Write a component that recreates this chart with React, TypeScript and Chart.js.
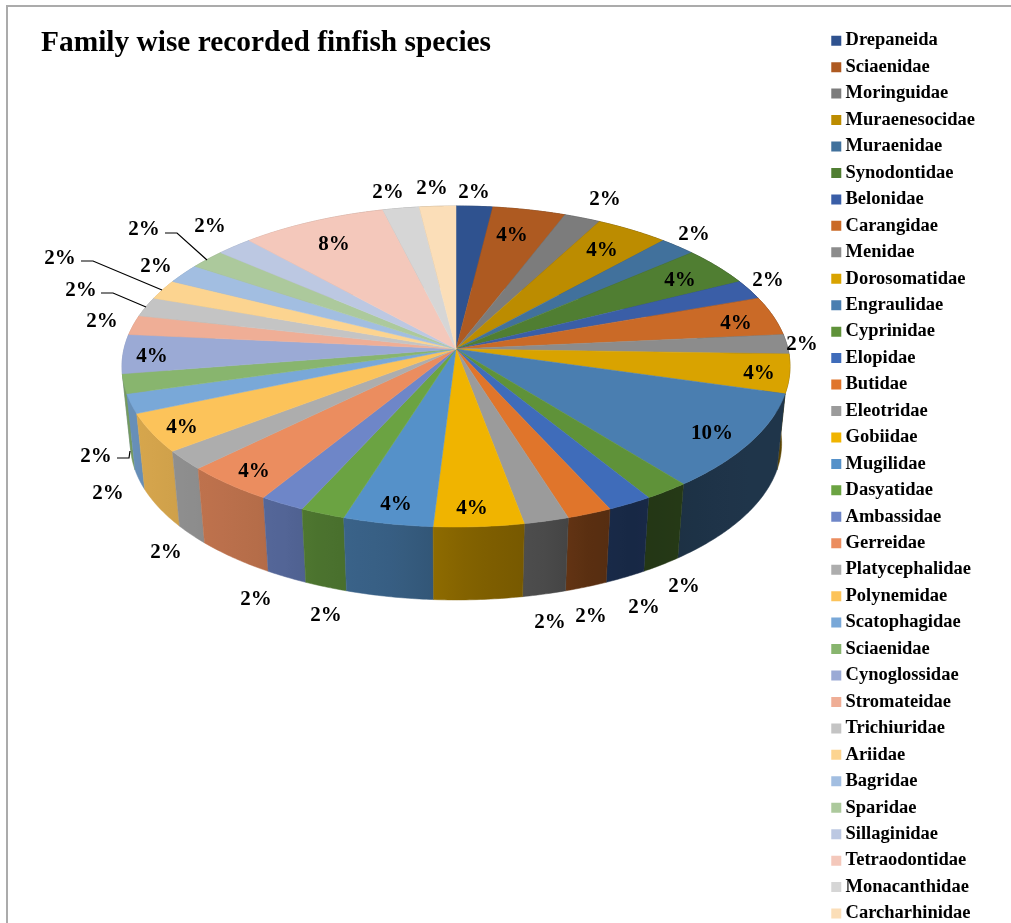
import React, { useEffect, useRef } from "react";
import { Chart, registerables } from "chart.js";

Chart.register(...registerables);

const families = [
  "Drepaneida", "Sciaenidae", "Moringuidae", "Muraenesocidae", "Muraenidae", "Synodontidae",
  "Belonidae", "Carangidae", "Menidae", "Dorosomatidae", "Engraulidae", "Cyprinidae",
  "Elopidae", "Butidae", "Eleotridae", "Gobiidae", "Mugilidae", "Dasyatidae", "Ambassidae",
  "Gerreidae", "Platycephalidae", "Polynemidae", "Scatophagidae", "Sciaenidae", "Cynoglossidae",
  "Stromateidae", "Trichiuridae", "Ariidae", "Bagridae", "Sparidae", "Sillaginidae",
  "Tetraodontidae", "Monacanthidae", "Carcharhinidae",
];

// Recorded species per family.
const speciesCounts = [
  1, 2, 1, 2, 1, 2, 1, 2, 1, 2, 5, 1, 1, 1, 1, 2, 2, 1, 1, 2, 1, 2, 1, 1, 2, 1, 1, 1, 1, 1, 1, 4, 1, 1,
];

const sliceColors = [
  "#2F528F", "#AE5A21", "#7C7C7C", "#BC8C00", "#41719C", "#507E32", "#3A5EA7", "#CA6A27",
  "#8C8C8C", "#D9A300", "#4A7EB0", "#5F9239", "#3F6CBA", "#E0752B", "#9B9B9B", "#F0B400",
  "#5591C9", "#6BA342", "#6E86C8", "#EB8D5F", "#ADADAD", "#FCC35A", "#79A8D8", "#88B56E",
  "#9BAAD5", "#EFAE96", "#C4C4C4", "#FCD490", "#A2BEE1", "#ACC99C", "#BCC8E2", "#F4C8BB",
  "#D6D6D6", "#FBDEB8",
];

// Centre of each percentage label on the canvas, slice by slice.
const labelAnchors: [number, number][] = [
  [474, 191], [512, 234], [605, 198], [602, 249], [694, 233], [680, 279], [768, 279], [736, 322],
  [802, 343], [759, 372], [712, 432], [684, 585], [644, 606], [591, 615], [550, 621], [472, 507],
  [396, 503], [326, 614], [256, 598], [254, 470], [166, 551], [182, 426], [108, 492], [96, 455],
  [152, 355], [102, 320], [81, 289], [60, 257], [156, 265], [144, 228], [210, 225], [334, 243],
  [388, 191], [432, 187],
];

// Leader lines as [slice index, polyline].
const leaderLines: [number, [number, number][]][] = [
  [23, [[117, 458], [129, 458], [130, 451]]],
  [26, [[101, 293], [113, 293], [146, 307]]],
  [27, [[81, 261], [93, 261], [162, 290]]],
  [29, [[165, 233], [177, 233], [207, 260]]],
];

// Perspective of the disc: apex, half-width, half-depth and foreshortening.
const APEX_X = 456;
const APEX_Y = 349;
const SPAN_X = 332;
const SPAN_Y = 158.6;
const TILT = 0.109;
// The lower rim is the upper rim moved down and slightly shrunk.
const WALL_DROP = 77.4;
const WALL_SHRINK = 0.975;

// Brightness of the outer wall across the width of the canvas.
const wallShade: [number, number][] = [
  [120, 0.86], [230, 0.79], [285, 0.75], [320, 0.7], [390, 0.65], [480, 0.53],
  [545, 0.48], [590, 0.4], [630, 0.37], [660, 0.38], [740, 0.42], [800, 0.42],
];

const shadeAt = (x: number) => {
  for (let i = 1; i < wallShade.length; i++) {
    const [x0, s0] = wallShade[i - 1];
    const [x1, s1] = wallShade[i];
    if (x <= x1) return s0 + ((s1 - s0) * Math.max(0, x - x0)) / (x1 - x0);
  }
  return wallShade[wallShade.length - 1][1];
};

const shaded = (hex: string, k: number) => {
  const n = parseInt(hex.slice(1), 16);
  return `rgb(${Math.round(((n >> 16) & 255) * k)},${Math.round(((n >> 8) & 255) * k)},${Math.round((n & 255) * k)})`;
};

const rimPoint = (a: number): [number, number] => {
  const u = Math.cos(a);
  const v = Math.sin(a);
  const w = 1 - TILT * v;
  return [APEX_X + (SPAN_X * u) / w, APEX_Y + (SPAN_Y * v) / w];
};

const lowerPoint = ([x, y]: [number, number]): [number, number] => [
  APEX_X + WALL_SHRINK * (x - APEX_X),
  APEX_Y + WALL_DROP + WALL_SHRINK * (y - APEX_Y),
];

const rimSamples = (start: number, end: number) => {
  const pts: [number, number][] = [];
  const steps = Math.max(4, Math.ceil((end - start) / 0.01));
  for (let i = 0; i <= steps; i++) pts.push(rimPoint(start + ((end - start) * i) / steps));
  return pts;
};

const trace = (ctx: CanvasRenderingContext2D, pts: [number, number][]) => {
  ctx.beginPath();
  pts.forEach(([x, y], i) => (i ? ctx.lineTo(x, y) : ctx.moveTo(x, y)));
  ctx.closePath();
};

const LABEL_FONT = 'bold 21px "Liberation Serif"';

const framePlugin = {
  id: "frame",
  beforeDraw(chart: any) {
    const { ctx, width, height } = chart;
    ctx.save();
    ctx.fillStyle = "#ffffff";
    ctx.fillRect(0, 0, width, height);
    ctx.strokeStyle = "#ABABAB";
    ctx.lineWidth = 2;
    ctx.beginPath();
    ctx.moveTo(7, height);
    ctx.lineTo(7, 6);
    ctx.lineTo(width, 6);
    ctx.stroke();
    ctx.restore();
  },
};

// Paints the pie elements as a tilted disc with an outer wall.
const tiltedPiePlugin = {
  id: "tiltedPie",
  beforeDatasetsDraw(chart: any) {
    const { ctx } = chart;
    const arcs = chart.getDatasetMeta(0).data;
    ctx.save();

    const order = arcs
      .map((arc: any, i: number) => ({ arc, i, depth: Math.sin((arc.startAngle + arc.endAngle) / 2) }))
      .sort((a: any, b: any) => a.depth - b.depth);

    for (const { arc, i } of order) {
      const upper = rimSamples(arc.startAngle, arc.endAngle);
      const lower = upper.map(lowerPoint).reverse();
      const xs = [...upper, ...lower].map((p) => p[0]);
      const x0 = Math.min(...xs);
      const x1 = Math.max(...xs);
      const fill = ctx.createLinearGradient(x0, 0, x1 + 0.01, 0);
      for (let s = 0; s <= 6; s++) {
        fill.addColorStop(s / 6, shaded(sliceColors[i], shadeAt(x0 + ((x1 - x0) * s) / 6)));
      }
      trace(ctx, [...upper, ...lower]);
      ctx.fillStyle = fill;
      ctx.strokeStyle = fill;
      ctx.lineWidth = 0.5;
      ctx.fill();
      ctx.stroke();
    }

    arcs.forEach((arc: any, i: number) => {
      trace(ctx, [[APEX_X, APEX_Y], ...rimSamples(arc.startAngle, arc.endAngle)]);
      ctx.fillStyle = sliceColors[i];
      ctx.strokeStyle = sliceColors[i];
      ctx.lineWidth = 0.5;
      ctx.fill();
      ctx.stroke();
    });

    ctx.restore();
    return false;
  },
  afterDraw(chart: any) {
    const { ctx } = chart;
    const total = speciesCounts.reduce((a, b) => a + b, 0);
    ctx.save();
    ctx.strokeStyle = "#000000";
    ctx.lineWidth = 1.2;
    for (const [, line] of leaderLines) {
      ctx.beginPath();
      line.forEach(([x, y], i) => (i ? ctx.lineTo(x, y) : ctx.moveTo(x, y)));
      ctx.stroke();
    }
    ctx.font = LABEL_FONT;
    ctx.fillStyle = "#000000";
    ctx.textAlign = "center";
    ctx.textBaseline = "middle";
    speciesCounts.forEach((count, i) => {
      const [x, y] = labelAnchors[i];
      ctx.fillText(`${Math.round((count / total) * 100)}%`, x, y + 1.5);
    });
    ctx.restore();
  },
};

export default function App() {
  const canvasRef = useRef<HTMLCanvasElement>(null);

  useEffect(() => {
    const chart = new Chart(canvasRef.current!, {
      type: "pie",
      data: {
        labels: families,
        datasets: [
          {
            data: speciesCounts,
            backgroundColor: sliceColors,
            borderColor: sliceColors,
            borderWidth: 10,
          },
        ],
      },
      options: {
        responsive: false,
        animation: false,
        layout: { padding: { left: 41, top: 23.5, right: 26, bottom: -13 } },
        plugins: {
          title: {
            display: true,
            text: "Family wise recorded finfish species",
            align: "start",
            fullSize: false,
            color: "#000000",
            font: { family: "Liberation Serif", size: 29.4, weight: "bold" },
            padding: { top: 2, bottom: 0 },
          },
          legend: {
            position: "right",
            align: "start",
            fullSize: true,
            labels: {
              // The legend swatch is the square stroke round a near-empty box.
              boxWidth: 0.01,
              boxHeight: 0.01,
              padding: 7.95,
              color: "#000000",
              font: { family: "Liberation Serif", size: 18.5, weight: "bold" },
            },
          },
          tooltip: { enabled: false },
        },
      },
      plugins: [framePlugin, tiltedPiePlugin],
    } as any);
    return () => chart.destroy();
  }, []);

  return (
    <div style={{ position: "absolute", left: 0, top: 0, width: 1011, height: 923, overflow: "hidden" }}>
      <canvas ref={canvasRef} width={1011} height={923} style={{ display: "block" }} />
    </div>
  );
}
